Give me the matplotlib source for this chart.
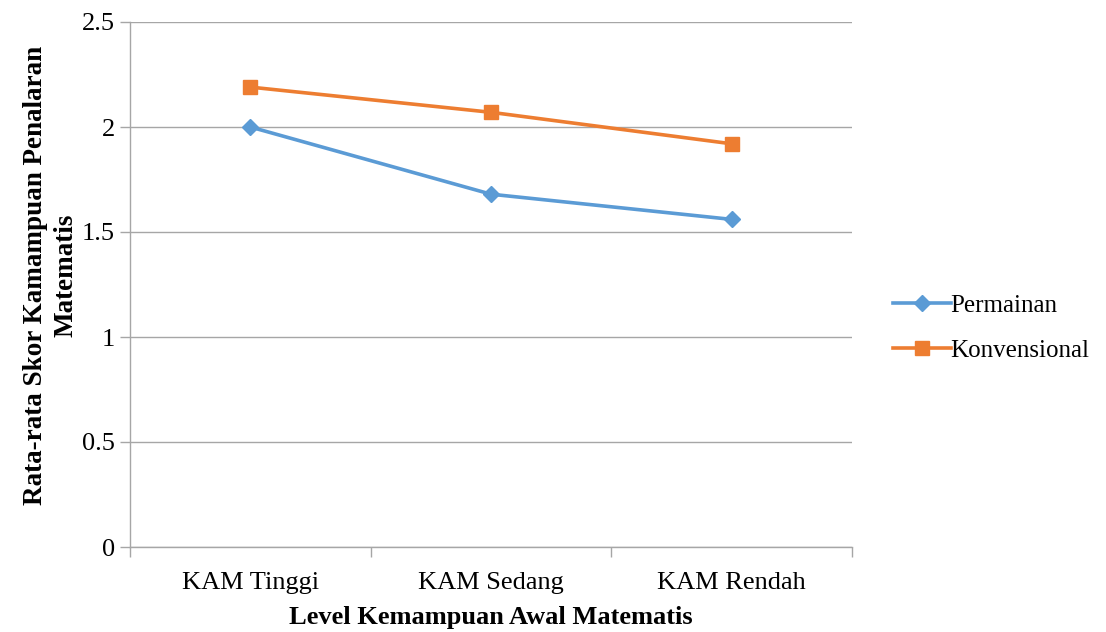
import matplotlib
matplotlib.use("Agg")
import matplotlib.pyplot as plt
from matplotlib.ticker import FixedLocator, NullFormatter

categories = ["KAM Tinggi", "KAM Sedang", "KAM Rendah"]
permainan = [2.00, 1.68, 1.56]
konvensional = [2.19, 2.07, 1.92]
y_ticks = [0, 0.5, 1, 1.5, 2, 2.5]
y_tick_labels = ["0", "0.5", "1", "1.5", "2", "2.5"]

plt.rcParams["font.family"] = ["Liberation Serif", "DejaVu Serif"]

fig = plt.figure(figsize=(11.06, 6.32), dpi=100)
ax = fig.add_axes([130 / 1106, 1 - 547 / 632, (852 - 130) / 1106, (547 - 22) / 632])

x = list(range(len(categories)))
ax.plot(x, permainan, color="#5B9BD5", lw=2.6, marker="D", ms=8,
        label="Permainan", zorder=3)
ax.plot(x, konvensional, color="#ED7D31", lw=2.6, marker="s", ms=10,
        label="Konvensional", zorder=3)

ax.set_xlim(-0.5, len(categories) - 0.5)
ax.set_ylim(0, 2.5)
ax.set_yticks(y_ticks)
ax.set_yticklabels(y_tick_labels)
ax.set_xticks(x)
ax.set_xticklabels(categories)
ax.xaxis.set_minor_locator(FixedLocator([-0.5, 0.5, 1.5, 2.5]))
ax.xaxis.set_minor_formatter(NullFormatter())
ax.tick_params(axis="x", which="major", length=0, pad=18, labelsize=19)
ax.tick_params(axis="x", which="minor", length=7, color="#A6A6A6", width=1)
ax.tick_params(axis="y", length=7, color="#A6A6A6", width=1, labelsize=19, pad=4)

ax.grid(axis="y", color="#A6A6A6", lw=1)
ax.set_axisbelow(True)
for s in ["top", "right"]:
    ax.spines[s].set_visible(False)
for s in ["left", "bottom"]:
    ax.spines[s].set_color("#A6A6A6")
    ax.spines[s].set_linewidth(1)

ax.set_xlabel("Level Kemampuan Awal Matematis", fontsize=19, fontweight="bold")
ax.xaxis.set_label_coords(0.5, -0.112)
ax.set_ylabel("Rata-rata Skor Kamampuan Penalaran\nMatematis", fontsize=19.5,
              fontweight="bold", linespacing=1.28)
ax.yaxis.set_label_coords(-0.072, 0.518)

fig.legend(*ax.get_legend_handles_labels(), loc="center left",
           bbox_to_anchor=(893 / 1106, 1 - 328 / 632), frameon=False,
           fontsize=18, handlelength=2.3, handletextpad=0.0, labelspacing=0.92,
           borderaxespad=0, borderpad=0)

fig.savefig("out.png", dpi=100)
